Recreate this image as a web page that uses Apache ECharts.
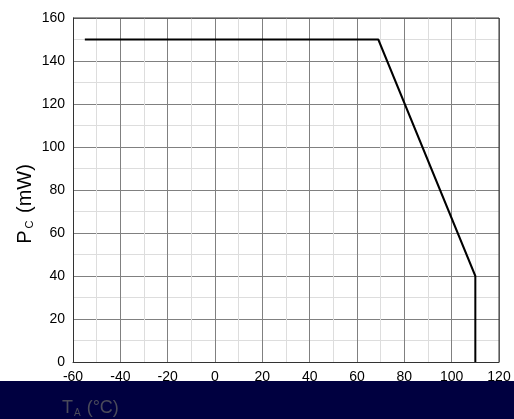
<!DOCTYPE html>
<html><head><meta charset="utf-8">
<script src="https://cdn.jsdelivr.net/npm/echarts@6/dist/echarts.min.js"></script>
<style>html,body{margin:0;padding:0;background:#fff}#c{width:514px;height:419px}</style>
</head><body><div id="c"></div>
<script>
const tempC = [-55, 69, 110, 110];
const powerMW = [150, 150, 40, 0];
const xTicks = [-60, 120, 20];
const yTicks = [0, 160, 20];

const chart = echarts.init(document.getElementById('c'), null, {renderer: 'canvas'});
const fontFam = '"Liberation Sans", Arial, sans-serif';
chart.setOption({
  animation: false,
  grid: {left: 73, right: 15, top: 18, bottom: 57, show: false},
  xAxis: {
    type: 'value', min: xTicks[0], max: xTicks[1], interval: xTicks[2],
    axisLine: {show: true, onZero: false, lineStyle: {color: '#333', width: 1}},
    axisTick: {show: false},
    axisLabel: {color: '#000', fontSize: 14, fontFamily: fontFam, margin: 8},
    splitLine: {show: true, lineStyle: {color: '#808080', width: 1}},
    minorTick: {show: false, splitNumber: 2},
    minorSplitLine: {show: true, lineStyle: {color: '#dddddd', width: 1}}
  },
  yAxis: {
    type: 'value', min: yTicks[0], max: yTicks[1], interval: yTicks[2],
    axisLine: {show: true, onZero: false, lineStyle: {color: '#333', width: 1}},
    axisTick: {show: false},
    axisLabel: {color: '#000', fontSize: 14, fontFamily: fontFam, margin: 8},
    splitLine: {show: true, lineStyle: {color: '#808080', width: 1}},
    minorTick: {show: false, splitNumber: 2},
    minorSplitLine: {show: true, lineStyle: {color: '#dddddd', width: 1}}
  },
  series: [{
    type: 'line', data: tempC.map((t, i) => [t, powerMW[i]]),
    showSymbol: false, symbol: 'none',
    lineStyle: {color: '#000', width: 2}, z: 5
  }],
  graphic: [
    {type: 'line', shape: {x1: 499, y1: 18, x2: 499, y2: 362}, style: {stroke: '#333', lineWidth: 1}, z: 10},
    {type: 'line', shape: {x1: 73, y1: 18, x2: 499, y2: 18}, style: {stroke: '#333', lineWidth: 1}, z: 10},
    {type: 'text', x: 25, y: 204, rotation: Math.PI / 2, z: 20,
      style: {text: 'P{s|C} (mW)', fill: '#000', fontSize: 20, fontFamily: fontFam,
        align: 'center', verticalAlign: 'middle',
        rich: {s: {fontSize: 11, fontFamily: fontFam, fill: '#000', padding: [10, 2, 0, 2]}}}},
    {type: 'rect', shape: {x: 0, y: 381, width: 514, height: 38}, style: {fill: '#000040'}, z: 100},
    {type: 'text', x: 62, y: 398, z: 101,
      style: {text: 'T{s|A} (°C)', fill: '#4a4a5a', fontSize: 18, fontFamily: fontFam,
        rich: {s: {fontSize: 10, fontFamily: fontFam, fill: '#4a4a5a', padding: [10, 1, 0, 1]}}}}
  ]
});
</script></body></html>
